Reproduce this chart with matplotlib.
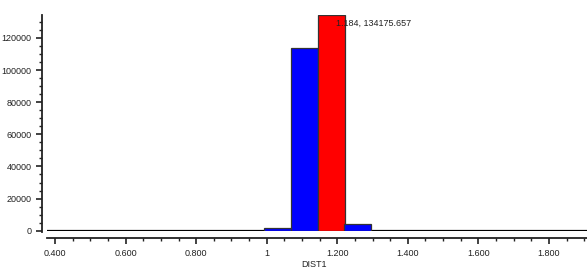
import matplotlib
matplotlib.use("Agg")
import matplotlib.pyplot as plt
from matplotlib.ticker import MultipleLocator, FixedLocator, FixedFormatter

# 数据
bin_centers = [1.0295, 1.106, 1.183, 1.2585]
counts = [1500, 113800, 134175.657, 4000]
bar_colors = ["#0000ff", "#0000ff", "#ff0000", "#0000ff"]
bin_width = 0.0765

x_ticks = [0.4, 0.6, 0.8, 1.0, 1.2, 1.4, 1.6, 1.8]
x_tick_labels = ["0.400", "0.600", "0.800", "1", "1.200", "1.400", "1.600", "1.800"]
y_ticks = [0, 20000, 40000, 60000, 80000, 100000, 120000]

peak_label = "1.184, 134175.657"
x_label = "DIST1"

plt.rcParams["font.family"] = ["Liberation Sans", "DejaVu Sans"]
FS = 6.5
INK = "#222222"

fig = plt.figure(figsize=(5.87, 2.78), dpi=100)
ax = fig.add_axes([42 / 587, 47.3 / 278, 545 / 587, 216 / 278])

ax.bar(bin_centers, counts, width=bin_width, color=bar_colors,
       edgecolor="#333333", linewidth=0.9, zorder=3)

x_lo, x_hi = 0.377, 1.92
ax.hlines(0, x_lo, x_hi, color="black", linewidth=1.6, zorder=2)

ax.set_xlim(0.363, 1.908)
ax.set_ylim(0, 134500)

# 坐标轴样式
for s in ["top", "right"]:
    ax.spines[s].set_visible(False)
ax.spines["left"].set_linewidth(1.3)
ax.spines["left"].set_color(INK)
ax.spines["left"].set_bounds(-800, 134500)
ax.spines["bottom"].set_position(("outward", 5))
ax.spines["bottom"].set_bounds(x_lo, x_hi)
ax.spines["bottom"].set_linewidth(1.3)
ax.spines["bottom"].set_color(INK)

ax.xaxis.set_major_locator(FixedLocator(x_ticks))
ax.xaxis.set_major_formatter(FixedFormatter(x_tick_labels))
ax.xaxis.set_minor_locator(MultipleLocator(0.05))
ax.yaxis.set_major_locator(FixedLocator(y_ticks))
ax.yaxis.set_minor_locator(MultipleLocator(5000))
ax.yaxis.set_major_formatter(plt.FuncFormatter(lambda v, p: f"{int(v)}"))

ax.tick_params(axis="both", which="major", labelsize=FS, colors=INK, width=1.2, length=4.5)
ax.tick_params(axis="both", which="minor", colors=INK, width=1.0, length=2.5)
ax.tick_params(axis="x", which="major", pad=4)
ax.tick_params(axis="y", which="major", pad=3)

ax.set_xlabel(x_label, fontsize=FS, color=INK, labelpad=1)

ax.annotate(peak_label, xy=(bin_centers[2], counts[2]), xytext=(5, -8),
            textcoords="offset pixels", fontsize=FS, color=INK,
            ha="left", va="center", zorder=5)

fig.savefig("out.png", dpi=100, facecolor="white")
